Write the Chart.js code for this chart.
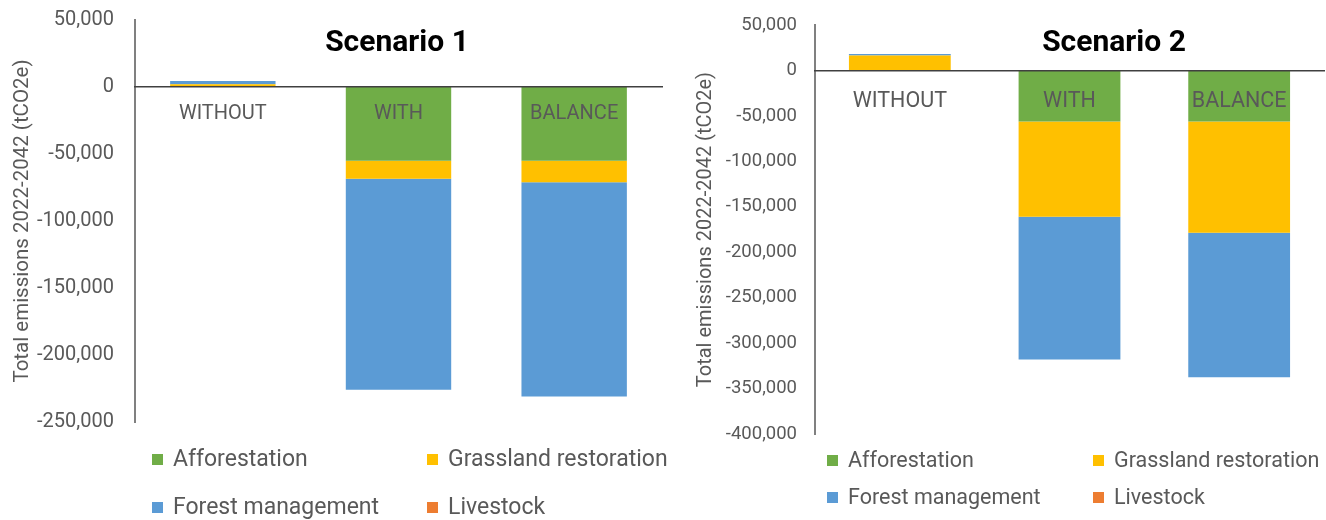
<!DOCTYPE html>
<html>
<head>
<meta charset="utf-8">
<script src="https://cdn.jsdelivr.net/npm/chart.js@4.4.1/dist/chart.umd.min.js"></script>
<style>
  body { margin: 0; background: #fff; font-family: Roboto, sans-serif; }
  #wrap { position: relative; width: 1326px; height: 520px; overflow: hidden; }
  .box { position: absolute; height: 520px; }
  .title { position: absolute; top: 23px; font: bold 30px Roboto, sans-serif; line-height: normal; color: #000; transform: translateX(-50%); white-space: nowrap; }
  .leg { position: absolute; display: flex; align-items: center; font-family: Roboto, sans-serif; color: #595959; white-space: nowrap; line-height: 24px; height: 24px; }
  .leg i { display: block; width: 11px; height: 11px; margin-right: 10px; }
</style>
</head>
<body>
<div id="wrap">
  <div class="box" style="left:0;top:-13px;width:680px"><canvas id="c1"></canvas></div>
  <div class="box" style="left:680px;top:-4px;width:646px"><canvas id="c2"></canvas></div>
  <div class="title" style="left:397px">Scenario 1</div>
  <div class="title" style="left:1114px">Scenario 2</div>
  <div id="legends"></div>
</div>
<script>
// categories and series
const categories = ['WITHOUT', 'WITH', 'BALANCE'];
const seriesNames = ['Afforestation', 'Grassland restoration', 'Forest management', 'Livestock'];
const seriesColors = ['#70AD47', '#FFC000', '#5B9BD5', '#ED7D31'];

// scenario 1 (tCO2e)
const s1Afforestation = [0, -55000, -55000];
const s1Grassland = [2000, -13500, -16000];
const s1Forest = [2500, -157500, -160000];
const s1Livestock = [0, 0, 0];
const s1Ticks = [50000, 0, -50000, -100000, -150000, -200000, -250000];

// scenario 2 (tCO2e)
const s2Afforestation = [0, -56000, -56000];
const s2Grassland = [16500, -105000, -122500];
const s2Forest = [1700, -157000, -159000];
const s2Livestock = [0, 0, 0];
const s2Ticks = [50000, 0, -50000, -100000, -150000, -200000, -250000, -300000, -350000, -400000];

const yTitle = 'Total emissions 2022-2042 (tCO2e)';
const grey = '#595959';

function makeChart(id, series, ticks, cfg) {
    const datasets = series.map((data, i) => ({
        label: seriesNames[i],
        data: data,
        backgroundColor: seriesColors[i],
        borderWidth: 0,
        categoryPercentage: 1,
        barPercentage: cfg.barPct
    }));
    return new Chart(document.getElementById(id), {
        type: 'bar',
        data: { labels: categories, datasets: datasets },
        options: {
            responsive: true,
            maintainAspectRatio: false,
            animation: false,
            layout: { padding: cfg.padding },
            plugins: { legend: { display: false }, tooltip: { enabled: false } },
            scales: {
                x: {
                    stacked: true,
                    position: { y: 0 },
                    grid: { display: false, drawTicks: false },
                    border: { display: true, color: '#404040', width: 1.5, z: 1 },
                    ticks: { z: 1, color: grey, font: { family: 'Roboto', size: cfg.catSize }, padding: cfg.xPad }
                },
                y: {
                    stacked: true,
                    min: ticks[ticks.length - 1],
                    max: ticks[0],
                    afterBuildTicks: (scale) => { scale.ticks = ticks.map(v => ({ value: v })); },
                    afterFit: (scale) => { scale.width = cfg.yWidth; },
                    grid: { display: false, drawTicks: false },
                    border: { display: true, color: '#808080', width: 2 },
                    ticks: {
                        color: grey,
                        font: { family: 'Roboto', size: cfg.tickSize },
                        padding: cfg.yPad,
                        callback: (v) => v.toLocaleString('en-US')
                    },
                    title: {
                        display: true,
                        text: yTitle,
                        color: grey,
                        font: { family: 'Roboto', size: cfg.titleSize },
                        padding: { top: cfg.titlePad, bottom: 0 }
                    }
                }
            }
        }
    });
}

makeChart('c1', [s1Afforestation, s1Grassland, s1Forest, s1Livestock], s1Ticks,
    { padding: { top: 4, bottom: 85, left: 0, right: 18 }, yWidth: 135, yPad: 21, xPad: 15, titlePad: 11,
      tickSize: 20, catSize: 20, titleSize: 20.5, barPct: 0.6 });
makeChart('c2', [s2Afforestation, s2Grassland, s2Forest, s2Livestock], s2Ticks,
    { padding: { top: 19, bottom: 82, left: 0, right: 2 }, yWidth: 135, yPad: 18, xPad: 18, titlePad: 14,
      tickSize: 18.5, catSize: 21.5, titleSize: 20, barPct: 0.6 });

// legends, two columns by two rows under each chart
const legendLayout = [
    { size: 23, spots: [[152, 447], [427, 447], [152, 495], [427, 495]] },
    { size: 21.5, spots: [[827, 448], [1093, 448], [827, 485], [1093, 485]] }
];
const legHost = document.getElementById('legends');
legendLayout.forEach(lg => {
    seriesNames.forEach((name, k) => {
        const el = document.createElement('div');
        el.className = 'leg';
        el.style.left = lg.spots[k][0] + 'px';
        el.style.top = lg.spots[k][1] + 'px';
        el.style.fontSize = lg.size + 'px';
        el.innerHTML = `<i style="background:${seriesColors[k]}"></i><span>${name}</span>`;
        legHost.appendChild(el);
    });
});
</script>
</body>
</html>
